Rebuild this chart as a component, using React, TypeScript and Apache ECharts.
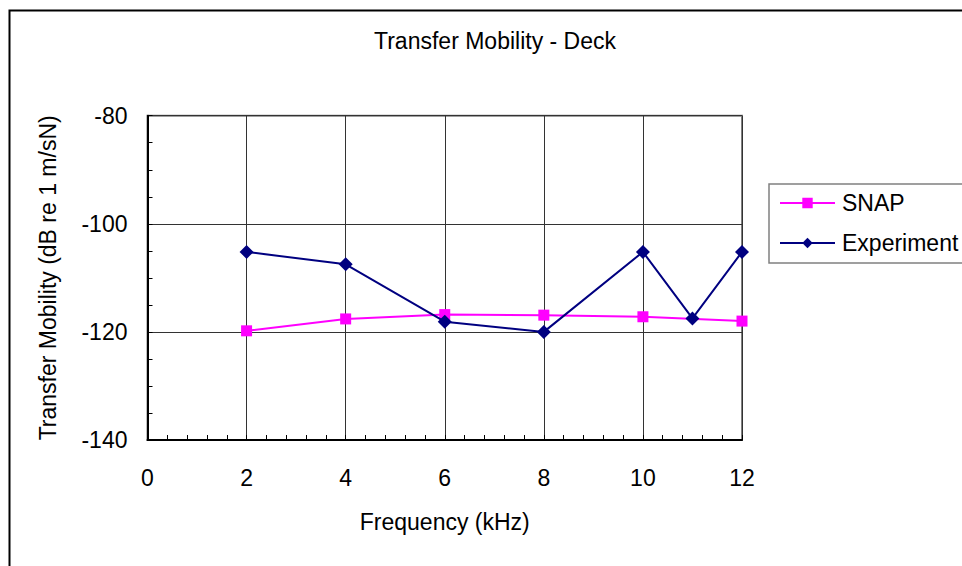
import React, { useEffect, useRef } from "react";
import * as echarts from "echarts";

const snapFreq = [2, 4, 6, 8, 10, 12];
const snapValues = [-119.8, -117.6, -116.8, -116.9, -117.2, -118.0];
const expFreq = [2, 4, 6, 8, 10, 11, 12];
const expValues = [-105.2, -107.5, -118.1, -120.0, -105.2, -117.5, -105.2];

const FONT = "'Liberation Sans', Arial, sans-serif";
const FS = 23;

export default function App() {
  const ref = useRef<HTMLDivElement>(null);
  useEffect(() => {
    if (!ref.current) return;
    const chart = echarts.init(ref.current, undefined, { renderer: "svg" });
    chart.setOption({
      animation: false,
      backgroundColor: "#ffffff",
      textStyle: { fontFamily: FONT, color: "#000" },
      title: {
        text: "Transfer Mobility - Deck",
        left: 490,
        textAlign: "center",
        top: 24,
        textStyle: { fontFamily: FONT, fontSize: FS, fontWeight: "normal", color: "#000" },
      },
      graphic: [
        {
          type: "rect",
          left: 7,
          top: 8,
          shape: { width: 1000, height: 600 },
          style: { fill: "none", stroke: "#000", lineWidth: 2 },
          z: 100,
        },
      ],
      legend: {
        orient: "vertical",
        left: 769,
        top: 184,
        padding: [7.5, 40, 8.5, 10],
        itemWidth: 55,
        itemHeight: 13,
        itemGap: 17,
        borderColor: "#808080",
        borderWidth: 1.5,
        textStyle: { fontFamily: FONT, fontSize: FS, color: "#000", padding: [0, 0, 0, 2] },
        data: ["SNAP", "Experiment"],
      },
      grid: {
        left: 147.5,
        top: 115.7,
        right: 220,
        bottom: 126,
        show: true,
        borderColor: "#808080",
        borderWidth: 2,
        backgroundColor: "#fff",
      },
      xAxis: {
        type: "value",
        min: 0,
        max: 12,
        interval: 2,
        name: "Frequency (kHz)",
        nameLocation: "middle",
        nameGap: 70,
        nameTextStyle: { fontFamily: FONT, fontSize: FS, color: "#000" },
        axisLine: { show: true, lineStyle: { color: "#000", width: 2 } },
        axisTick: { show: true, inside: true, length: 5, lineStyle: { color: "#000" } },
        minorTick: { show: true, splitNumber: 5, length: 5, lineStyle: { color: "#000" } },
        axisLabel: { fontFamily: FONT, fontSize: FS, color: "#000", margin: 26 },
        splitLine: { show: true, lineStyle: { color: "#333", width: 1 } },
      },
      yAxis: {
        type: "value",
        min: -140,
        max: -80,
        interval: 20,
        name: "Transfer Mobility (dB re 1 m/sN)",
        nameLocation: "middle",
        nameGap: 88,
        nameTextStyle: { fontFamily: FONT, fontSize: FS, color: "#000" },
        axisLine: { show: true, lineStyle: { color: "#000", width: 2 } },
        axisTick: { show: true, inside: true, length: 5, lineStyle: { color: "#000" } },
        minorTick: { show: true, splitNumber: 4, length: 5, lineStyle: { color: "#000" } },
        axisLabel: { fontFamily: FONT, fontSize: FS, color: "#000", margin: 20 },
        splitLine: { show: true, lineStyle: { color: "#333", width: 1 } },
      },
      series: [
        {
          name: "SNAP",
          type: "line",
          data: snapFreq.map((f, i) => [f, snapValues[i]]),
          symbol: "rect",
          symbolSize: 11,
          lineStyle: { color: "#FF00FF", width: 2 },
          itemStyle: { color: "#FF00FF" },
          z: 3,
        },
        {
          name: "Experiment",
          type: "line",
          data: expFreq.map((f, i) => [f, expValues[i]]),
          symbol: "diamond",
          symbolSize: 14,
          lineStyle: { color: "#000080", width: 2 },
          itemStyle: { color: "#000080" },
          z: 4,
        },
      ],
    });
    return () => chart.dispose();
  }, []);
  return (
    <div
      ref={ref}
      style={{ position: "fixed", left: 0, top: 0, width: 962, height: 566 }}
    />
  );
}
